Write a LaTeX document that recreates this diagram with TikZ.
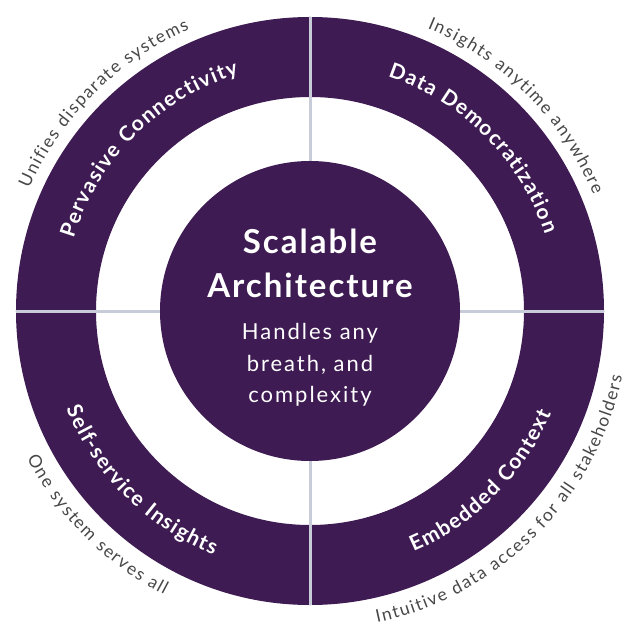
\documentclass[tikz,border=0pt]{standalone}
\usepackage{fontspec}
\setmainfont{Lato}
\newfontfamily\hubfont{Lato}[LetterSpace=6]
\newfontfamily\subfont{Lato}[LetterSpace=9]
\usetikzlibrary{decorations.text}
\definecolor{plum}{HTML}{3E1B52}
\definecolor{spoke}{HTML}{C8CBD8}
\definecolor{caption}{HTML}{474747}
\newcommand{\ringfont}{\bfseries\fontsize{21}{21}\selectfont\kern1.3pt}
\newcommand{\notefont}{\fontsize{17.5}{17.5}\selectfont\kern1.5pt}

\begin{document}
\begin{tikzpicture}[x=1pt,y=1pt,
    hub/.style={circle,fill=plum,minimum size=300pt,inner sep=0pt},
    title/.style={text=white,font=\hubfont\bfseries\fontsize{33}{33}\selectfont,anchor=base},
    sub/.style={text=white,font=\subfont\fontsize{22}{22}\selectfont,anchor=base},
    ringlabel/.style={decorate,decoration={text along path,text align=center,text color=white,text={|\ringfont|#1}}},
    note/.style={decorate,decoration={text along path,text align=center,text color=caption,text={|\notefont|#1}}}]
    \useasboundingbox (-310,-315) rectangle (321,311);
    \fill[plum,even odd rule] (0,0) circle (294pt) (0,0) circle (214pt);
    \draw[spoke,line width=3pt] (0,294) -- (0,-294);
    \draw[spoke,line width=3pt] (-294,0) -- (294,0);
    \node[hub] (hub) at (0,0) {};
    \node[title] (scalable) at (0,57) {Scalable};
    \node[title] (architecture) at (0,13) {Architecture};
    \node[sub] (handles) at (0,-28) {Handles any};
    \node[sub] (breath) at (0,-60) {breath, and};
    \node[sub] (complexity) at (0,-91) {complexity};
    \path[ringlabel=Pervasive Connectivity] (180:247pt) arc[start angle=180,end angle=90,radius=247pt];
    \path[ringlabel=Data Democratization] (90:247pt) arc[start angle=90,end angle=0,radius=247pt];
    \path[ringlabel=Self-service Insights] (180:262pt) arc[start angle=180,end angle=270,radius=262pt];
    \path[ringlabel=Embedded Context] (270:262pt) arc[start angle=270,end angle=360,radius=262pt];
    \path[note=Unifies disparate systems] (180:306pt) arc[start angle=180,end angle=90,radius=306pt];
    \path[note=Insights anytime anywhere] (90:306pt) arc[start angle=90,end angle=0,radius=306pt];
    \path[note=One system serves all] (180:319pt) arc[start angle=180,end angle=270,radius=319pt];
    \path[note=Intuitive data access for all stakeholders] (270:319pt) arc[start angle=270,end angle=360,radius=319pt];
\end{tikzpicture}
\end{document}
